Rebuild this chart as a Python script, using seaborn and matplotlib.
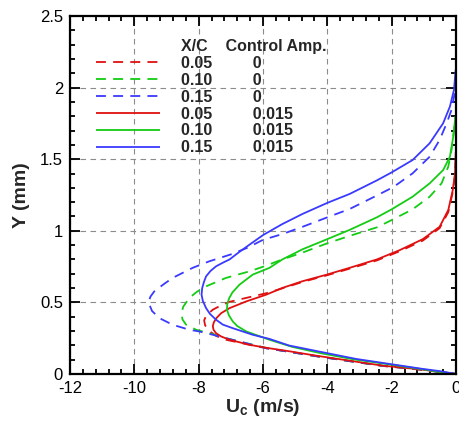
import numpy as np
import pandas as pd
import matplotlib
matplotlib.use("Agg")
import matplotlib.pyplot as plt
from matplotlib.lines import Line2D
from matplotlib.ticker import MultipleLocator, FuncFormatter
import seaborn as sns

# Streamwise velocity profiles U_c (m/s) versus wall distance Y (mm)
xc_values = ["0.05", "0.10", "0.15"]
amp_values = ["0", "0.015"]

# Uncontrolled (control amplitude 0)
u_005_a0 = [0, -0.6, -1.23, -2.27, -3.31, -4.35, -5.19, -5.90, -6.42, -7.15, -7.45, -7.67, -7.80,
            -7.83, -7.76, -7.56, -7.30, -7.04, -6.32, -5.90, -5.40, -4.77, -4.0, -3.30, -2.46,
            -1.74, -1.03, -0.51, -0.24, -0.10, -0.03, -0.008]
y_005_a0 = [0, 0.017, 0.033, 0.056, 0.09, 0.124, 0.155, 0.18, 0.204, 0.239, 0.265, 0.30, 0.34,
            0.375, 0.41, 0.449, 0.48, 0.504, 0.542, 0.564, 0.598, 0.643, 0.69, 0.736, 0.793,
            0.858, 0.932, 1.018, 1.13, 1.27, 1.39, 1.50]

u_010_a0 = [0, -0.6, -1.2, -2.27, -3.31, -4.35, -5.19, -5.90, -6.52, -7.15, -7.67, -8.08, -8.39,
            -8.50, -8.54, -8.48, -8.29, -8.05, -7.77, -7.15, -6.42, -6.0, -5.40, -4.77, -4.0,
            -3.30, -2.46, -2.0, -1.35, -0.82, -0.45, -0.24, -0.14, -0.06, -0.015]
y_010_a0 = [0, 0.017, 0.034, 0.057, 0.09, 0.125, 0.155, 0.182, 0.215, 0.25, 0.285, 0.309, 0.344,
            0.38, 0.42, 0.47, 0.531, 0.575, 0.612, 0.671, 0.717, 0.749, 0.80, 0.848, 0.913,
            0.965, 1.024, 1.075, 1.15, 1.238, 1.331, 1.448, 1.564, 1.704, 1.80]

u_015_a0 = [0, -0.6, -1.2, -2.27, -3.31, -4.35, -5.19, -5.90, -6.52, -7.15, -7.56, -7.98, -8.29,
            -8.81, -9.22, -9.45, -9.56, -9.50, -9.38, -9.10, -8.81, -8.19, -7.67, -7.0, -6.5,
            -6.0, -5.40, -4.77, -4.0, -3.30, -2.43, -1.95, -1.35, -0.82, -0.51, -0.29, -0.14,
            -0.05, -0.01]
y_015_a0 = [0, 0.017, 0.034, 0.057, 0.09, 0.125, 0.155, 0.18, 0.215, 0.25, 0.274, 0.297, 0.309,
            0.344, 0.39, 0.44, 0.50, 0.54, 0.577, 0.625, 0.671, 0.741, 0.787, 0.835, 0.88,
            0.937, 0.977, 1.028, 1.094, 1.153, 1.25, 1.305, 1.401, 1.517, 1.634, 1.751, 1.844,
            1.95, 2.02]

# Controlled (control amplitude 0.015)
u_005_a1 = [0, -0.6, -1.23, -2.27, -3.31, -4.35, -5.19, -5.90, -6.42, -7.04, -7.30, -7.46, -7.54,
            -7.56, -7.53, -7.45, -7.30, -7.04, -6.52, -5.90, -5.40, -4.77, -4.0, -3.30, -2.46,
            -1.74, -1.03, -0.51, -0.24, -0.10, -0.03, -0.008]
y_005_a1 = [0, 0.018, 0.035, 0.058, 0.093, 0.128, 0.159, 0.183, 0.204, 0.239, 0.262, 0.285, 0.31,
            0.335, 0.36, 0.39, 0.425, 0.46, 0.507, 0.554, 0.601, 0.648, 0.695, 0.742, 0.80,
            0.866, 0.942, 1.028, 1.145, 1.285, 1.40, 1.55]

u_010_a1 = [0, -0.6, -1.1, -2.1, -3.2, -4.2, -5.1, -5.80, -6.52, -6.80, -6.94, -7.06, -7.12,
            -7.11, -7.05, -6.95, -6.73, -6.32, -5.80, -5.40, -4.77, -4.0, -3.30, -2.46, -2.0,
            -1.35, -0.82, -0.40, -0.19, -0.085, -0.02]
y_010_a1 = [0, 0.018, 0.035, 0.068, 0.103, 0.145, 0.19, 0.239, 0.297, 0.335, 0.367, 0.41, 0.449,
            0.49, 0.53, 0.57, 0.624, 0.694, 0.741, 0.80, 0.871, 0.942, 1.007, 1.094, 1.15,
            1.238, 1.331, 1.424, 1.517, 1.657, 1.797]

u_015_a1 = [0, -0.5, -1.02, -2.06, -3.1, -4.15, -5.19, -5.80, -6.32, -6.94, -7.25, -7.46, -7.65,
            -7.77, -7.87, -7.91, -7.89, -7.84, -7.77, -7.63, -7.46, -7.25, -7.04, -6.75, -6.44,
            -6.0, -5.40, -4.77, -4.0, -3.30, -2.46, -2.0, -1.35, -0.82, -0.40, -0.19, -0.063,
            -0.01]
y_015_a1 = [0, 0.02, 0.035, 0.07, 0.105, 0.152, 0.199, 0.245, 0.274, 0.32, 0.345, 0.379, 0.42,
            0.46, 0.51, 0.554, 0.60, 0.64, 0.682, 0.72, 0.752, 0.777, 0.80, 0.85, 0.90, 0.97,
            1.047, 1.118, 1.195, 1.258, 1.352, 1.408, 1.494, 1.611, 1.751, 1.867, 1.984, 2.124]

profiles = [
    ("0.05", "0", u_005_a0, y_005_a0),
    ("0.10", "0", u_010_a0, y_010_a0),
    ("0.15", "0", u_015_a0, y_015_a0),
    ("0.05", "0.015", u_005_a1, y_005_a1),
    ("0.10", "0.015", u_010_a1, y_010_a1),
    ("0.15", "0.015", u_015_a1, y_015_a1),
]

frames = []
for i, (xc, amp, u, y) in enumerate(profiles):
    frames.append(pd.DataFrame({"U": u, "Y": y, "xc": xc, "amp": amp, "curve": i}))
df = pd.concat(frames, ignore_index=True)

colors = {"0.05": "#e01010", "0.10": "#14cc14", "0.15": "#3a3aff"}

sns.set_style("ticks")
plt.rcParams["font.family"] = ["Liberation Sans", "DejaVu Sans"]
plt.rcParams["axes.unicode_minus"] = False
plt.rcParams["mathtext.fontset"] = "custom"
plt.rcParams["mathtext.rm"] = "Liberation Sans"
plt.rcParams["mathtext.bf"] = "Liberation Sans:bold"

fig = plt.figure(figsize=(4.59, 4.25), dpi=100)
ax = fig.add_axes([70 / 459, 1 - 374 / 425, 386 / 459, 358 / 425])

handles = []
for i, (xc, amp, _, _) in enumerate(profiles):
    sub = df[df["curve"] == i]
    sns.lineplot(data=sub, x="U", y="Y", sort=False, estimator=None,
                 color=colors[xc], linewidth=1.3, ax=ax)
    line = ax.lines[-1]
    if amp == "0":
        line.set_dashes((5.5, 4))
    line.set_solid_capstyle("butt")
    line.set_solid_joinstyle("round")
    handles.append(line)

ax.set_xlim(-12, 0)
ax.set_ylim(0, 2.5)
ax.xaxis.set_major_locator(MultipleLocator(2))
ax.xaxis.set_minor_locator(MultipleLocator(0.4))
ax.yaxis.set_major_locator(MultipleLocator(0.5))
ax.yaxis.set_minor_locator(MultipleLocator(0.1))
ax.tick_params(which="both", direction="in", top=True, right=True, width=1.3,
               colors="black", labelsize=12)
ax.tick_params(which="major", length=7, pad=5)
ax.tick_params(which="minor", length=3.5)
ax.xaxis.set_major_formatter(FuncFormatter(lambda v, p: f"{v:g}"))
ax.yaxis.set_major_formatter(FuncFormatter(lambda v, p: f"{v:g}"))
ax.grid(True, which="major", color="#8c8c8c", linestyle=(0, (5, 4)), linewidth=0.8)
ax.set_axisbelow(True)
for s in ax.spines.values():
    s.set_linewidth(1.6)
    s.set_color("black")

ax.set_xlabel(r"$\mathbf{U_c}$ (m/s)", fontsize=14, fontweight="bold", labelpad=1)
ax.set_ylabel("Y (mm)", fontsize=14, fontweight="bold", labelpad=7)

# Two-column legend: X/C and control amplitude
header = Line2D([], [], color="none")
labels = ["X/C    Control Amp."] + [f"{xc}         {amp}" for xc, amp, _, _ in profiles]
leg = ax.legend([header] + handles, labels, loc="upper left",
                bbox_to_anchor=(0.067, 0.936), frameon=False, handlelength=4.0,
                handletextpad=1.3, labelspacing=0.12, borderpad=0, borderaxespad=0,
                prop={"weight": "bold", "size": 11.5, "family": "Liberation Sans"})

fig.savefig("out.png", dpi=100)
